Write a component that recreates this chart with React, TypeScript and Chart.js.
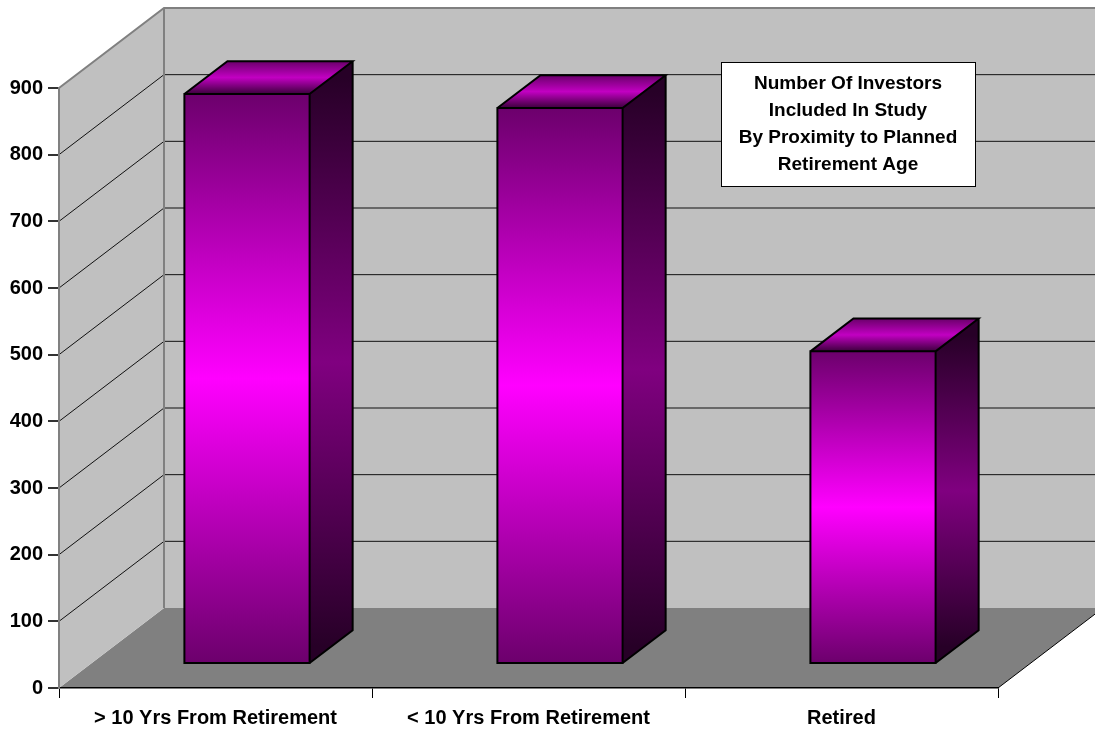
import { useEffect, useRef } from "react";
import { Chart, registerables } from "chart.js";

Chart.register(...registerables);

// Investor counts per retirement-proximity group
const categories = ["> 10 Yrs From Retirement", "< 10 Yrs From Retirement", "Retired"];
const investors = [855, 834, 469];

// Value axis
const yMin = 0;
const yMax = 900;
const yStep = 100;

// Caption box text
const captionLines = [
  "Number Of Investors",
  "Included In Study",
  "By Proximity to Planned",
  "Retirement Age",
];

const FONT = "'Liberation Sans', Arial, Helvetica, sans-serif";

// Oblique projection used for the 3-D look
const DEPTH_X = 105; // back wall offset, x
const DEPTH_Y = -80; // back wall offset, y
const BAR_FRONT = 0.3; // depth fraction where bar fronts sit
const BAR_DEPTH = 0.41; // depth fraction taken by each bar

function poly(ctx: CanvasRenderingContext2D, pts: number[][]) {
  ctx.beginPath();
  ctx.moveTo(pts[0][0], pts[0][1]);
  for (let i = 1; i < pts.length; i++) ctx.lineTo(pts[i][0], pts[i][1]);
  ctx.closePath();
}

const wallsPlugin = {
  id: "walls3d",
  beforeDraw(chart: any) {
    const { ctx, chartArea } = chart;
    const ys = chart.scales.y;
    const L = chartArea.left, R = chartArea.right;
    const B = ys.getPixelForValue(yMin);
    const T = ys.getPixelForValue(yMax);
    ctx.save();
    ctx.fillStyle = "#ffffff";
    ctx.fillRect(0, 0, chart.width, chart.height);

    // floor
    poly(ctx, [[L, B], [L + DEPTH_X, B + DEPTH_Y], [R + DEPTH_X, B + DEPTH_Y], [R, B]]);
    ctx.fillStyle = "#808080";
    ctx.fill();
    // back wall
    ctx.fillStyle = "#c0c0c0";
    ctx.fillRect(L + DEPTH_X, T + DEPTH_Y, R - L, B - T);
    // side wall
    poly(ctx, [[L, B], [L + DEPTH_X, B + DEPTH_Y], [L + DEPTH_X, T + DEPTH_Y], [L, T]]);
    ctx.fill();

    // gridlines on side and back walls
    ctx.strokeStyle = "#111111";
    ctx.lineWidth = 1;
    ys.ticks.forEach((t: any) => {
      if (t.value <= yMin || t.value >= yMax) return;
      const y = ys.getPixelForValue(t.value);
      ctx.beginPath();
      ctx.moveTo(L, y);
      ctx.lineTo(L + DEPTH_X, y + DEPTH_Y);
      ctx.lineTo(R + DEPTH_X, y + DEPTH_Y);
      ctx.stroke();
    });

    // wall edges
    ctx.strokeStyle = "#808080";
    ctx.lineWidth = 2;
    ctx.beginPath();
    ctx.moveTo(L, T);
    ctx.lineTo(L + DEPTH_X, T + DEPTH_Y);
    ctx.lineTo(R + DEPTH_X, T + DEPTH_Y);
    ctx.moveTo(L + DEPTH_X, T + DEPTH_Y);
    ctx.lineTo(L + DEPTH_X, B + DEPTH_Y);
    ctx.stroke();

    // floor right edge
    ctx.strokeStyle = "#000000";
    ctx.lineWidth = 1;
    ctx.beginPath();
    ctx.moveTo(R, B);
    ctx.lineTo(R + DEPTH_X, B + DEPTH_Y);
    ctx.stroke();
    ctx.restore();
  },
  afterDatasetsDraw(chart: any) {
    const { ctx } = chart;
    const meta = chart.getDatasetMeta(0);
    const fx = DEPTH_X * BAR_FRONT, fy = DEPTH_Y * BAR_FRONT;
    const sx = DEPTH_X * BAR_DEPTH, sy = DEPTH_Y * BAR_DEPTH;
    ctx.save();
    meta.data.forEach((el: any) => {
      const { x, y, base, width } = el.getProps(["x", "y", "base", "width"], true);
      const l = x - width / 2 + fx;
      const r = x + width / 2 + fx;
      const t = y + fy;
      const b = base + fy;

      // right side face
      const sg = ctx.createLinearGradient(0, t + sy / 2, 0, b + sy / 2);
      sg.addColorStop(0, "#270027");
      sg.addColorStop(0.5, "#800080");
      sg.addColorStop(1, "#270027");
      poly(ctx, [[r, b], [r + sx, b + sy], [r + sx, t + sy], [r, t]]);
      ctx.fillStyle = sg;
      ctx.fill();

      // top face
      const tg = ctx.createLinearGradient(0, t, 0, t + sy);
      tg.addColorStop(0, "#3c003c");
      tg.addColorStop(0.5, "#c200c2");
      tg.addColorStop(1, "#6a006a");
      poly(ctx, [[l, t], [r, t], [r + sx, t + sy], [l + sx, t + sy]]);
      ctx.fillStyle = tg;
      ctx.fill();

      // front face
      const fg = ctx.createLinearGradient(0, t, 0, b);
      fg.addColorStop(0, "#6c006c");
      fg.addColorStop(0.5, "#ff00ff");
      fg.addColorStop(1, "#6c006c");
      ctx.fillStyle = fg;
      ctx.fillRect(l, t, r - l, b - t);

      // outlines
      ctx.strokeStyle = "#000000";
      ctx.lineWidth = 2;
      ctx.lineJoin = "miter";
      ctx.beginPath();
      ctx.rect(l, t, r - l, b - t);
      ctx.moveTo(l, t);
      ctx.lineTo(l + sx, t + sy);
      ctx.lineTo(r + sx, t + sy);
      ctx.lineTo(r, t);
      ctx.moveTo(r + sx, t + sy);
      ctx.lineTo(r + sx, b + sy);
      ctx.lineTo(r, b);
      ctx.stroke();
    });
    ctx.restore();
  },
  afterDraw(chart: any) {
    const { ctx } = chart;
    const bx = 721, by = 62, bw = 254, bh = 124;
    ctx.save();
    ctx.fillStyle = "#ffffff";
    ctx.fillRect(bx, by, bw, bh);
    ctx.strokeStyle = "#000000";
    ctx.lineWidth = 1;
    ctx.strokeRect(bx + 0.5, by + 0.5, bw, bh);
    ctx.fillStyle = "#000000";
    ctx.font = `bold 19px ${FONT}`;
    ctx.textAlign = "center";
    ctx.textBaseline = "middle";
    const lh = 27;
    const cy = by + bh / 2 - (lh * (captionLines.length - 1)) / 2;
    captionLines.forEach((s, i) => ctx.fillText(s, bx + bw / 2, cy + i * lh));
    ctx.restore();
  },
};

export default function App() {
  const ref = useRef<HTMLCanvasElement | null>(null);

  useEffect(() => {
    document.body.style.margin = "0";
    const canvas = ref.current;
    if (!canvas) return;
    const chart = new Chart(canvas, {
      type: "bar",
      data: {
        labels: categories,
        datasets: [
          {
            data: investors,
            backgroundColor: "rgba(0,0,0,0)",
            borderWidth: 0,
            barPercentage: 0.4,
            categoryPercentage: 1,
          },
        ],
      },
      options: {
        responsive: false,
        animation: false,
        events: [],
        layout: { padding: { left: 0, right: 97, top: 88, bottom: 0 } },
        plugins: {
          legend: { display: false },
          tooltip: { enabled: false },
          title: { display: false },
        },
        scales: {
          x: {
            type: "category",
            offset: true,
            grid: {
              offset: true,
              drawOnChartArea: false,
              drawTicks: true,
              tickLength: 10,
              color: "#000000",
              lineWidth: 1,
            },
            border: { display: true, color: "#000000", width: 1.5 },
            ticks: {
              color: "#000000",
              font: { family: FONT, size: 20, weight: "bold" },
              padding: 8,
              maxRotation: 0,
              autoSkip: false,
            },
            afterFit(s: any) {
              s.height = 42;
            },
          },
          y: {
            min: yMin,
            max: yMax,
            grid: {
              drawOnChartArea: false,
              drawTicks: true,
              tickLength: 11,
              color: "#333333",
              lineWidth: 2,
            },
            border: { display: true, color: "#808080", width: 2 },
            ticks: {
              stepSize: yStep,
              color: "#000000",
              font: { family: FONT, size: 20, weight: "bold" },
              padding: 5,
            },
            afterFit(s: any) {
              s.width = 59;
            },
          },
        },
      },
      plugins: [wallsPlugin],
    } as any);
    return () => chart.destroy();
  }, []);

  return (
    <div style={{ width: 1095, height: 730, overflow: "hidden" }}>
      <canvas ref={ref} width={1095} height={730} style={{ display: "block" }} />
    </div>
  );
}
